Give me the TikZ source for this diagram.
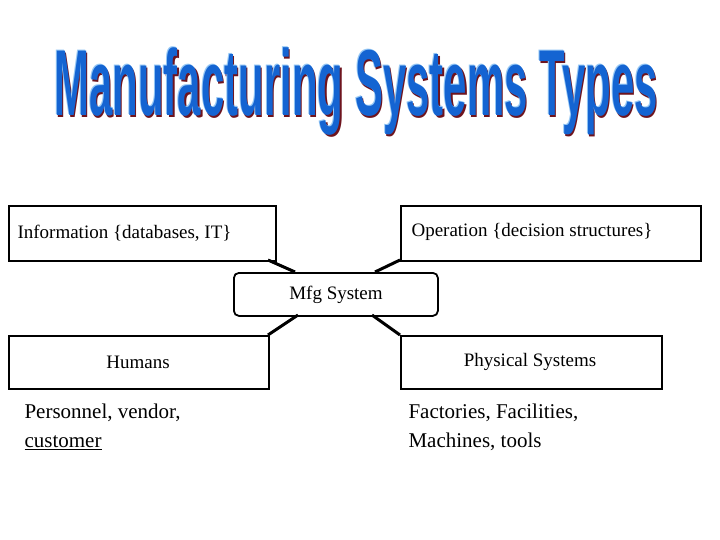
\documentclass[tikz,border=0pt]{standalone}
\usepackage{fontspec}
\setmainfont{Liberation Serif}
\newfontfamily\titlefont{Liberation Sans}
\definecolor{tblue}{RGB}{20,100,210}
\definecolor{tred}{RGB}{110,20,30}
\definecolor{tlight}{RGB}{150,200,245}
\newcommand\ttxt{\titlefont\bfseries\fontsize{36}{40}\selectfont\addfontfeature{FakeStretch=0.72}Manufacturing Systems Types}
\begin{document}
\begin{tikzpicture}[x=1pt,y=-1pt,
  box/.style={draw,line width=1.8pt,inner sep=0pt,anchor=north west},
  lbl/.style={font=\fontsize{19}{22}\selectfont},
  con/.style={line width=3pt},
  note/.style={font=\fontsize{21}{29}\selectfont,align=left,anchor=north west}]
\useasboundingbox (0,0) rectangle (720,540);
% title
\node (title) at (356,92) {\scalebox{1.62}[2.6]{\rlap{\kern0.9pt\raisebox{-0.5pt}{\color{tred}\ttxt}}\rlap{\kern-0.6pt\raisebox{0.4pt}{\color{tlight}\ttxt}}{\color{tblue}\ttxt}}};
% boxes
\node[box,minimum width=267pt,minimum height=55pt] (info) at (8,205) {};
\node[lbl,anchor=west] at (14,233) {Information \{databases, IT\}};
\node[box,minimum width=300pt,minimum height=55pt] (op) at (400,205) {};
\node[lbl,anchor=west] at (408,232) {Operation \{decision structures\}};
\node[box,rounded corners=5pt,minimum width=204pt,minimum height=43pt] (mfg) at (233,272) {};
\node[lbl] at (336,295) {Mfg System};
\node[box,minimum width=260pt,minimum height=53pt] (hum) at (8,335) {};
\node[lbl] at (138,362) {Humans};
\node[box,minimum width=261pt,minimum height=53pt] (phy) at (400,335) {};
\node[lbl] at (530,362) {Physical Systems};
% connectors
\coordinate (a1) at (268,260); \coordinate (a2) at (295,272);
\coordinate (b1) at (400,260); \coordinate (b2) at (375,272);
\coordinate (c1) at (268,335); \coordinate (c2) at (298,315);
\coordinate (d1) at (400,335); \coordinate (d2) at (372,315);
\draw[con] (a1) -- (a2); \draw[con] (b1) -- (b2);
\draw[con] (c1) -- (c2); \draw[con] (d1) -- (d2);
% notes
\node[note] (n1) at (21,400) {Personnel, vendor,\\\underline{customer}};
\node[note] (n2) at (405,400) {Factories, Facilities,\\Machines, tools};
\end{tikzpicture}
\end{document}
